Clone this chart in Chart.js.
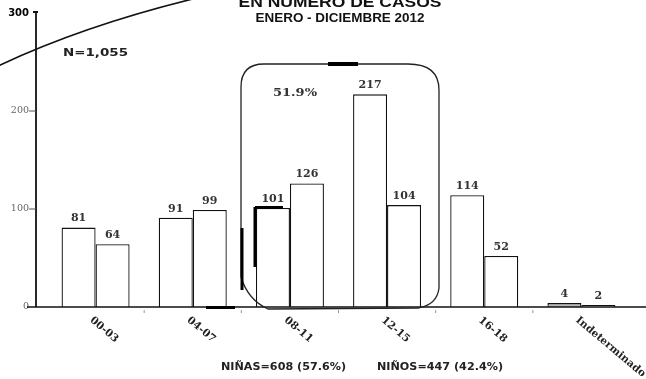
<!DOCTYPE html>
<html>
<head>
<meta charset="utf-8">
<script src="https://cdn.jsdelivr.net/npm/chart.js@4"></script>
<style>
  html, body { margin: 0; padding: 0; background: #fff; }
  canvas { display: block; }
</style>
</head>
<body>
<canvas id="chart" width="646" height="379"></canvas>
<script>
const ageGroups = ["00-03", "04-07", "08-11", "12-15", "16-18", "Indeterminado"];
const ninas = [81, 91, 101, 217, 114, 4];
const ninos = [64, 99, 126, 104, 52, 2];
const yTicks = [0, 100, 200, 300];
const titleLines = ["EN NUMERO DE CASOS", "ENERO - DICIEMBRE 2012"];
const totalText = "N=1,055";
const bracketText = "51.9%";
const footerTexts = ["NIÑAS=608 (57.6%)", "NIÑOS=447 (42.4%)"];

// draw text squeezed or stretched to a given width
function fitText(ctx, text, x, y, width) {
  const w = ctx.measureText(text).width;
  ctx.save();
  ctx.translate(x, y);
  ctx.scale(width / w, 1);
  ctx.textAlign = "center";
  ctx.fillText(text, 0, 0);
  ctx.restore();
}

function line(ctx, pts, width, color) {
  ctx.beginPath();
  ctx.moveTo(pts[0][0], pts[0][1]);
  for (let i = 1; i < pts.length; i++) ctx.lineTo(pts[i][0], pts[i][1]);
  ctx.lineWidth = width;
  ctx.strokeStyle = color;
  ctx.stroke();
}

const decor = {
  id: "decor",
  afterDatasetsDraw(chart) {
    const ctx = chart.ctx;
    const xs = chart.scales.x;
    const ys = chart.scales.y;
    const base = ys.getPixelForValue(0);
    const top = ys.getPixelForValue(300);
    ctx.save();

    // axes
    line(ctx, [[27, base], [646, base]], 1.5, "#111");
    line(ctx, [[36, top - 1], [36, base]], 1.8, "#111");
    line(ctx, [[33, top - 1], [38, top - 1]], 2, "#111");
    [100, 200].forEach(v => {
      const y = ys.getPixelForValue(v);
      line(ctx, [[29, y], [36, y]], 1, "#555");
    });
    for (let i = 0; i < ageGroups.length - 1; i++) {
      const x = (xs.getPixelForValue(i) + xs.getPixelForValue(i + 1)) / 2;
      line(ctx, [[x, base + 3], [x, base + 6]], 1, "#999");
    }

    // value labels
    ctx.fillStyle = "#333";
    ctx.font = "bold 11px 'DejaVu Serif'";
    ctx.textAlign = "center";
    ctx.textBaseline = "middle";
    chart.data.datasets.forEach((ds, di) => {
      chart.getDatasetMeta(di).data.forEach((el, i) => {
        ctx.fillText(String(ds.data[i]), el.x, el.y - 9);
      });
    });

    // rotated category labels
    ctx.font = "bold 10.5px 'DejaVu Serif'";
    ctx.fillStyle = "#222";
    ctx.textAlign = "left";
    ctx.textBaseline = "top";
    ageGroups.forEach((lab, i) => {
      const cx = xs.getPixelForValue(i);
      ctx.save();
      ctx.translate(cx - 1, base + 8);
      ctx.rotate(40 * Math.PI / 180);
      ctx.fillText(lab, 0, 0);
      ctx.restore();
    });

    // titles
    ctx.fillStyle = "#111";
    ctx.textBaseline = "alphabetic";
    ctx.font = "bold 15px 'Liberation Sans'";
    fitText(ctx, titleLines[0], 340, 7, 203);
    ctx.font = "bold 13px 'Liberation Sans'";
    fitText(ctx, titleLines[1], 340, 22, 169);

    ctx.font = "bold 11px 'DejaVu Sans'";
    ctx.fillStyle = "#222";
    fitText(ctx, totalText, 95.5, 56, 65);

    ctx.font = "bold 10.5px 'DejaVu Sans'";
    fitText(ctx, footerTexts[0], 283.5, 370, 125);
    fitText(ctx, footerTexts[1], 440, 370, 126);

    ctx.font = "bold 11px 'DejaVu Serif'";
    ctx.fillStyle = "#333";
    fitText(ctx, bracketText, 295, 96, 44);

    // bracket around 08-11 and 12-15
    ctx.beginPath();
    ctx.moveTo(241, 277);
    ctx.lineTo(241, 87);
    ctx.quadraticCurveTo(241, 64, 264, 64);
    ctx.lineTo(408, 64);
    ctx.quadraticCurveTo(439, 64, 439, 90);
    ctx.lineTo(439, 288);
    ctx.quadraticCurveTo(437, 305, 418, 308);
    ctx.lineTo(268, 309);
    ctx.quadraticCurveTo(248, 300, 241, 277);
    ctx.lineWidth = 1.3;
    ctx.strokeStyle = "#222";
    ctx.stroke();

    // scan marks
    line(ctx, [[328, 64], [358, 64]], 4, "#000");
    line(ctx, [[242, 228], [242, 290]], 3, "#000");
    line(ctx, [[255, 207], [255, 267]], 3, "#000");
    line(ctx, [[255, 207.5], [283, 207.5]], 3, "#000");
    line(ctx, [[206, 307.5], [235, 307.5]], 3, "#000");

    // arc at top left
    ctx.beginPath();
    ctx.moveTo(-2, 66);
    ctx.quadraticCurveTo(87, 24, 205, -4);
    ctx.lineWidth = 1.6;
    ctx.strokeStyle = "#111";
    ctx.stroke();

    ctx.restore();
  }
};

new Chart(document.getElementById("chart"), {
  type: "bar",
  data: {
    labels: ageGroups,
    datasets: [
      {
        label: "Niñas",
        data: ninas,
        backgroundColor: ["#fff", "#fff", "#fff", "#fff", "#fff", "#b8b8b8"],
        borderColor: "#111",
        borderWidth: 1.3,
      },
      {
        label: "Niños",
        data: ninos,
        backgroundColor: "#fff",
        borderColor: "#111",
        borderWidth: 1.3,
      },
    ],
  },
  options: {
    responsive: false,
    animation: false,
    layout: { padding: { left: 0, right: 16, top: 13, bottom: 72 } },
    datasets: { bar: { categoryPercentage: 0.7, barPercentage: 1 } },
    plugins: { legend: { display: false }, tooltip: { enabled: false }, title: { display: false } },
    scales: {
      x: { display: false },
      y: {
        min: 0,
        max: 300,
        afterFit(s) { s.width = 47; },
        afterBuildTicks(s) { s.ticks = yTicks.map(v => ({ value: v })); },
        grid: { display: false, drawTicks: true, tickLength: 18 },
        border: { display: false },
        ticks: {
          padding: 0,
          color: c => (c.tick && c.tick.value === 300 ? "#000" : "#666"),
          font: c => (c.tick && c.tick.value === 300
            ? { family: "DejaVu Sans", size: 10, weight: "bold" }
            : { family: "DejaVu Serif", size: 9.5 }),
        },
      },
    },
  },
  plugins: [decor],
});
</script>
</body>
</html>
